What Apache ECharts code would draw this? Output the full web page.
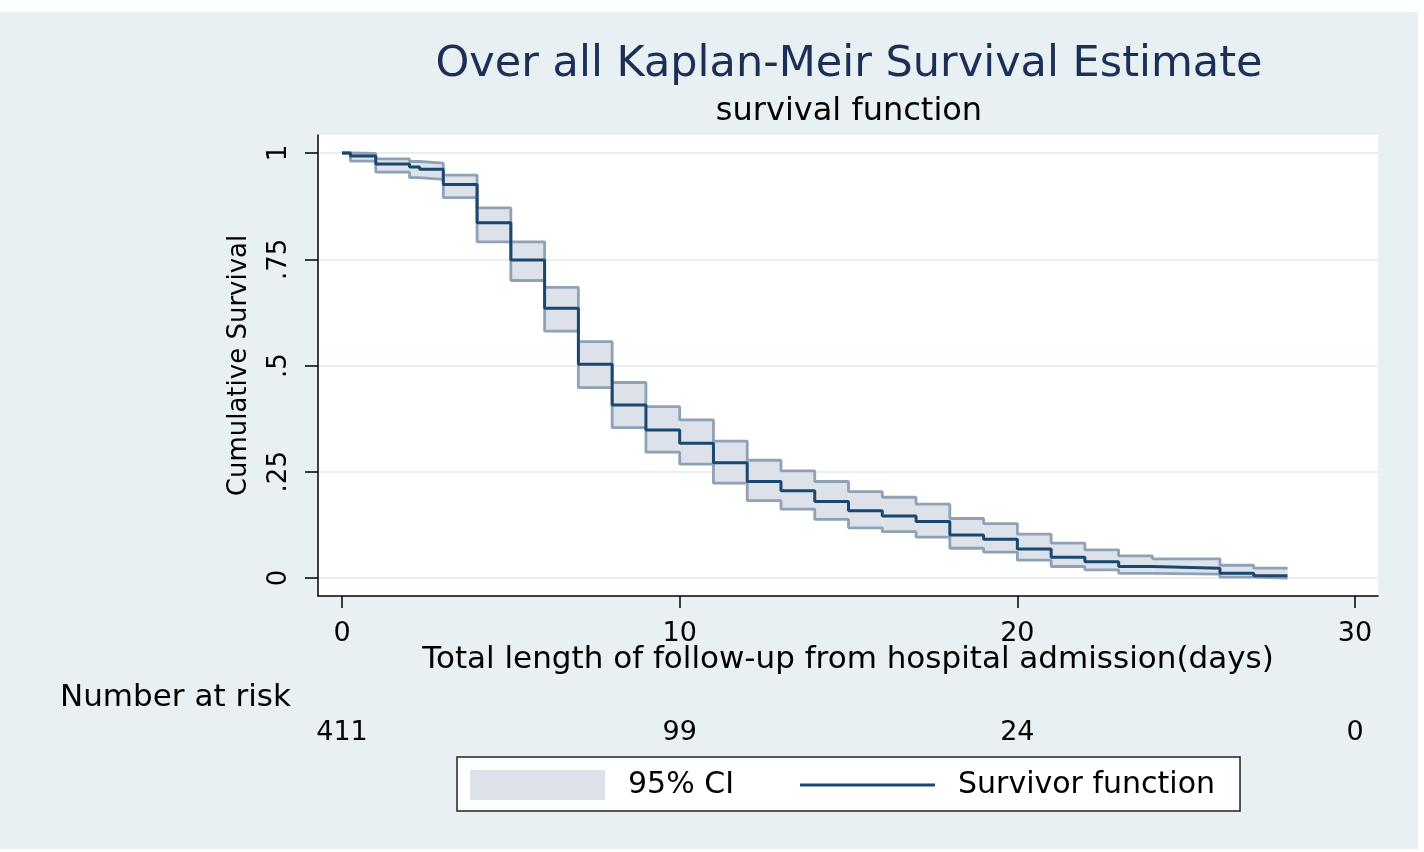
<!DOCTYPE html>
<html>
<head>
<meta charset="utf-8">
<script src="https://cdn.jsdelivr.net/npm/echarts@6/dist/echarts.min.js"></script>
<style>
  html, body { margin: 0; padding: 0; background: #ffffff; }
  #bg { position: absolute; left: 0; top: 12px; width: 1418px; height: 837px; background: #e9f0f3; }
  #chart { position: absolute; left: 0; top: 0; width: 1424px; height: 852px; }
</style>
</head>
<body>
<div id="bg"></div>
<div id="chart"></div>
<script>
// ---- data ----
const days      = [0, 0.25, 1, 2, 2.3, 3, 4, 5, 6, 7, 8, 9, 10, 11, 12, 13, 14, 15, 16, 17, 18, 19, 20, 21, 22, 23, 24, 26, 27, 28];
const survival  = [1.000, 0.993, 0.974, 0.967, 0.962, 0.926, 0.836, 0.748, 0.635, 0.503, 0.407, 0.348, 0.317, 0.271, 0.227, 0.205, 0.180, 0.158, 0.146, 0.133, 0.101, 0.091, 0.068, 0.049, 0.038, 0.027, 0.023, 0.011, 0.005, 0.005];
const ciUpper   = [1.000, 0.999, 0.986, 0.980, 0.976, 0.948, 0.871, 0.791, 0.684, 0.556, 0.460, 0.403, 0.372, 0.322, 0.277, 0.252, 0.227, 0.203, 0.190, 0.174, 0.140, 0.128, 0.103, 0.082, 0.066, 0.052, 0.045, 0.030, 0.023, 0.023];
const ciLower   = [1.000, 0.981, 0.955, 0.942, 0.938, 0.895, 0.791, 0.700, 0.581, 0.448, 0.354, 0.296, 0.268, 0.223, 0.182, 0.162, 0.138, 0.118, 0.109, 0.096, 0.070, 0.061, 0.042, 0.027, 0.019, 0.011, 0.009, 0.002, 0.000, 0.000];
const xTicks    = [0, 10, 20, 30];
const atRisk    = [411, 99, 24, 0];
const yTicks    = [0, 0.25, 0.5, 0.75, 1];
const yTickText = ['0', '.25', '.5', '.75', '1'];

const FONT = "'DejaVu Sans', 'Liberation Sans', sans-serif";
const edgeColor = '#8fa1b5';
const fillColor = '#dde2ea';
const lineColor = '#1a476f';

// band cells: [startDay, endDay, lower, upper]
const bandData  = days.slice(0, -1).map((d, i) => [d, days[i + 1], ciLower[i], ciUpper[i]]);
const lowerData = days.map((d, i) => [d, ciLower[i]]);
const upperData = days.map((d, i) => [d, ciUpper[i]]);
const survData  = days.map((d, i) => [d, survival[i]]);

const chart = echarts.init(document.getElementById('chart'), null, { renderer: 'canvas' });

const option = {
  animation: false,
  backgroundColor: 'transparent',
  textStyle: { fontFamily: FONT },
  graphic: [
    { type: 'text', x: 849, y: 65, style: { text: 'Over all Kaplan-Meir Survival Estimate', font: "43px 'DejaVu Sans'", fill: '#1c2f56', textAlign: 'center', textVerticalAlign: 'middle' } },
    { type: 'text', x: 849, y: 112, style: { text: 'survival function', font: "32px 'DejaVu Sans'", fill: '#000', textAlign: 'center', textVerticalAlign: 'middle' } },
    { type: 'text', x: 60, y: 698, style: { text: 'Number at risk', font: "31px 'DejaVu Sans'", fill: '#000', textAlign: 'left', textVerticalAlign: 'middle' } }
  ],
  grid: {
    left: 318, right: 46, top: 135, bottom: 256,
    show: true, backgroundColor: '#ffffff', borderWidth: 0,
    outerBoundsMode: 'none'
  },
  legend: {
    left: 457, top: 757,
    orient: 'horizontal',
    backgroundColor: '#ffffff',
    borderColor: '#222', borderWidth: 1.5, borderRadius: 0,
    padding: [13, 25, 11, 13],
    itemWidth: 135, itemHeight: 30, itemGap: 66,
    textStyle: { fontFamily: FONT, fontSize: 30, color: '#000', padding: [0, 0, 0, 18] },
    selectedMode: false,
    data: [
      { name: '95% CI', icon: 'rect', itemStyle: { color: fillColor, borderWidth: 0 } },
      { name: 'Survivor function', icon: 'path://M0,0H135V3H0Z', itemStyle: { color: lineColor, borderWidth: 0 } }
    ]
  },
  xAxis: [
    {
      type: 'value', min: -0.711, max: 30.68,
      name: 'Total length of follow-up from hospital admission(days)',
      nameLocation: 'middle', nameGap: 48, nameMoveOverlap: false,
      nameTextStyle: { fontFamily: FONT, fontSize: 31, color: '#000' },
      axisLine: { show: true, onZero: false, lineStyle: { color: '#000', width: 1.5 } },
      axisTick: { show: true, customValues: xTicks, length: 12, lineStyle: { color: '#000', width: 1.5 } },
      axisLabel: { customValues: xTicks, fontFamily: FONT, fontSize: 27, color: '#000', margin: 24 },
      splitLine: { show: false }
    },
    {
      type: 'value', min: -0.711, max: 30.68, position: 'bottom', offset: 100,
      axisLine: { show: false }, axisTick: { show: false }, splitLine: { show: false },
      axisLabel: {
        customValues: xTicks, fontFamily: FONT, fontSize: 27, color: '#000', margin: 23,
        formatter: v => String(atRisk[xTicks.indexOf(v)])
      }
    }
  ],
  yAxis: {
    type: 'value', min: -0.0424, max: 1.0424,
    name: 'Cumulative Survival', nameLocation: 'middle', nameGap: 66, nameMoveOverlap: false,
    nameTextStyle: { fontFamily: FONT, fontSize: 26, color: '#000' },
    axisLine: { show: true, onZero: false, lineStyle: { color: '#000', width: 1.5 } },
    axisTick: { show: true, customValues: yTicks, length: 13, lineStyle: { color: '#000', width: 1.5 } },
    axisLabel: {
      customValues: yTicks, rotate: 90, fontFamily: FONT, fontSize: 26, color: '#000', margin: 26,
      formatter: v => yTickText[yTicks.indexOf(v)]
    },
    splitLine: { show: true, lineStyle: { color: '#e8eff3', width: 2 } }
  },
  series: [
    {
      name: '95% CI', type: 'custom', silent: true, z: 2,
      data: bandData,
      encode: { x: [0, 1], y: [2, 3] },
      itemStyle: { color: fillColor },
      renderItem: function (params, api) {
        const p1 = api.coord([api.value(0), api.value(3)]);
        const p2 = api.coord([api.value(1), api.value(2)]);
        return {
          type: 'rect',
          shape: { x: p1[0], y: p1[1], width: p2[0] - p1[0], height: p2[1] - p1[1] },
          style: { fill: fillColor, stroke: null }
        };
      }
    },
    {
      name: 'ciUpperEdge', type: 'line', step: 'end', symbol: 'none', silent: true,
      data: upperData, z: 3,
      lineStyle: { color: edgeColor, width: 2.8 }, itemStyle: { color: edgeColor }
    },
    {
      name: 'ciLowerEdge', type: 'line', step: 'end', symbol: 'none', silent: true,
      data: lowerData, z: 3,
      lineStyle: { color: edgeColor, width: 2.8 }, itemStyle: { color: edgeColor }
    },
    {
      name: 'Survivor function', type: 'line', step: 'end', symbol: 'none', silent: true,
      data: survData, z: 5,
      lineStyle: { color: lineColor, width: 3 }, itemStyle: { color: lineColor }
    }
  ]
};

chart.setOption(option);
</script>
</body>
</html>
